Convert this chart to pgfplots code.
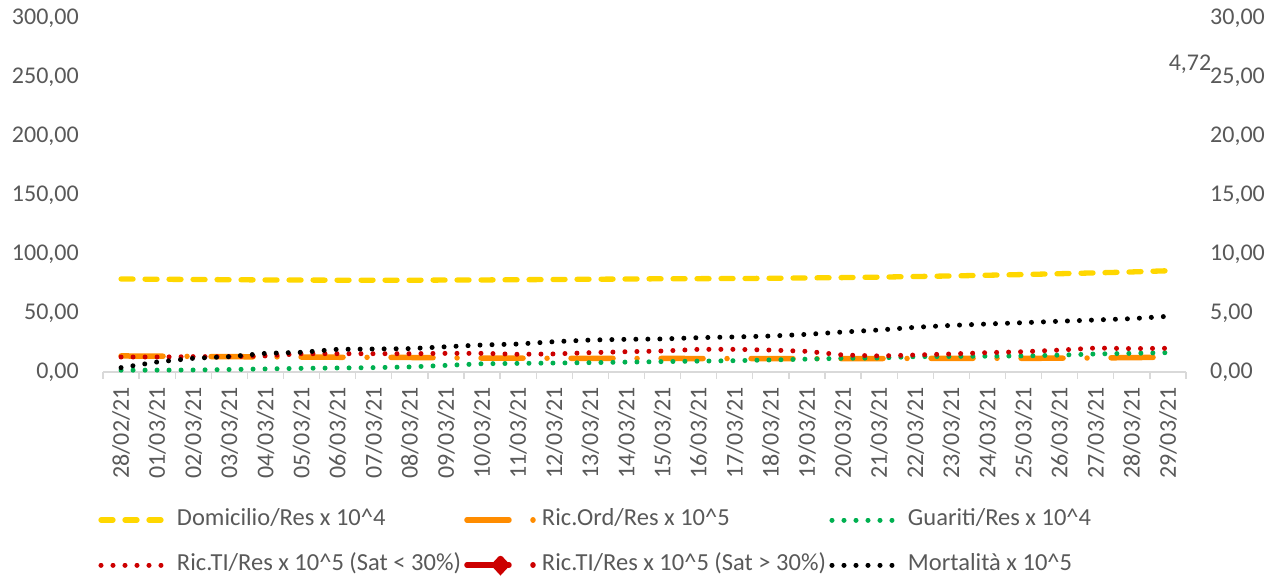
\documentclass[border=0pt]{standalone}
\usepackage{fontspec}
\setmainfont{Carlito}
\usepackage{pgfplots}
\pgfplotsset{compat=1.18}
\definecolor{tgrey}{HTML}{595959}
\definecolor{agrey}{HTML}{D9D9D9}
\definecolor{cyel}{RGB}{255,215,0}
\definecolor{cora}{RGB}{255,140,0}
\definecolor{cgreen}{HTML}{00B050}
\definecolor{cred}{RGB}{204,0,0}
\newcommand\chartfont{\fontsize{24bp}{28bp}\selectfont}
\newcommand\legfont{\fontsize{24.5bp}{28bp}\selectfont}
\newcommand\lt[1]{\makebox[287bp][l]{#1}}
\tikzset{
  dotsty/.style={line width=5bp, line cap=round, dash pattern=on 0.01bp off 11.99bp},
  dashsty/.style={line width=5.3bp, line cap=round, dash pattern=on 12bp off 12bp},
  ldsty/.style={line width=5.5bp, line cap=round, dash pattern=on 42bp off 24bp on 0.01bp off 23.99bp},
}
\pgfplotsset{
  stdlegend/.style={legend image code/.code={\path[draw=none,fill=none] (-3bp,-10bp) rectangle (76bp,10bp); \draw[##1] (0bp,0bp) -- (60bp,0bp);}},
  ldlegend/.style={legend image code/.code={\path[draw=none,fill=none] (-3bp,-10bp) rectangle (75bp,10bp); \draw[##1] (0bp,0bp) -- (67bp,0bp);}},
  dialegend/.style={legend image code/.code={\path[draw=none,fill=none] (-3bp,-10bp) rectangle (75bp,10bp); \draw[##1] (0bp,0bp) -- (67bp,0bp); \fill[cred] (33.5bp,6.5bp) -- (39.5bp,0bp) -- (33.5bp,-6.5bp) -- (27.5bp,0bp) -- cycle;}},
}
\begin{document}
\begin{tikzpicture}
\path (0,0) rectangle (1269bp,575bp);
\begin{axis}[
  at={(103bp,203bp)}, anchor=south west,
  scale only axis, width=1083bp, height=354bp,
  xmin=-0.5, xmax=29.5, ymin=0, ymax=300,
  clip=false,
  axis x line*=bottom, axis y line*=left,
  y axis line style={draw=none},
  x axis line style={draw=agrey, line width=1.3bp},
  xtick={0,...,29},
  xticklabels={28/02/21,01/03/21,02/03/21,03/03/21,04/03/21,05/03/21,06/03/21,07/03/21,08/03/21,09/03/21,10/03/21,11/03/21,12/03/21,13/03/21,14/03/21,15/03/21,16/03/21,17/03/21,18/03/21,19/03/21,20/03/21,21/03/21,22/03/21,23/03/21,24/03/21,25/03/21,26/03/21,27/03/21,28/03/21,29/03/21},
  major tick length=0pt,
  major x tick style={draw=none},
  major y tick style={draw=none},
  minor xtick={-0.5,0.5,...,29.6},
  minor x tick style={draw=agrey, line width=1.3bp},
  minor tick length=7bp, tick align=outside,
  xticklabel style={rotate=90, anchor=east, inner sep=0pt, font=\chartfont, text=tgrey},
  xticklabel shift=15bp,
  ytick={0,50,...,300},
  scaled y ticks=false,
  yticklabel style={/pgf/number format/fixed, /pgf/number format/fixed zerofill, /pgf/number format/precision=2, /pgf/number format/use comma, /pgf/number format/1000 sep={}, /pgf/number format/assume math mode=true, font=\chartfont, text=tgrey, inner sep=0pt, anchor=east, xshift=-24bp},
  legend columns=3,
  legend cell align=left,
  legend style={at={(axis description cs:-0.00462,-0.3856)}, anchor=north west, draw=none, fill=none, inner sep=0pt, outer sep=0pt, column sep=0pt, row sep=22bp, font=\legfont, text=tgrey,
    nodes={inner sep=0pt, text height=17bp, text depth=6bp, anchor=west}},
  stdlegend,
]
\addplot[cyel, dashsty] coordinates {
(0,78.8) (1,78.6) (2,78.4) (3,78.2) (4,78.0) (5,77.9) (6,77.8) (7,77.8) (8,77.8) (9,77.9)
(10,78.0) (11,78.2) (12,78.4) (13,78.6) (14,78.8) (15,79.0) (16,79.1) (17,79.2) (18,79.4) (19,79.7)
(20,80.0) (21,80.4) (22,80.9) (23,81.4) (24,82.0) (25,82.6) (26,83.3) (27,84.0) (28,84.8) (29,85.8)};
\addlegendentry{\lt{Domicilio/Res x 10\textasciicircum 4}}
\addplot[cora, ldsty, ldlegend] coordinates {
(0,13.6) (1,13.4) (2,13.2) (3,13.0) (4,12.8) (5,12.7) (6,12.5) (7,12.4) (8,12.3) (9,12.0)
(10,11.8) (11,11.7) (12,11.6) (13,11.6) (14,11.5) (15,11.5) (16,11.4) (17,11.4) (18,11.3) (19,11.3)
(20,11.3) (21,11.4) (22,11.5) (23,11.6) (24,11.6) (25,11.6) (26,11.7) (27,11.9) (28,12.2) (29,12.5)};
\addlegendentry{\lt{Ric.Ord/Res x 10\textasciicircum 5}}
\addplot[cgreen, dotsty] coordinates {
(0,1.5) (1,1.6) (2,1.7) (3,2.1) (4,2.6) (5,3.1) (6,3.4) (7,3.7) (8,4.3) (9,5.6)
(10,7.0) (11,7.3) (12,7.6) (13,7.9) (14,8.4) (15,8.8) (16,9.2) (17,9.6) (18,10.2) (19,10.9)
(20,11.6) (21,11.9) (22,13.0) (23,13.2) (24,13.4) (25,13.6) (26,14.3) (27,15.3) (28,15.8) (29,16.4)};
\addlegendentry{\lt{Guariti/Res x 10\textasciicircum 4}}
\addplot[cred, dotsty] coordinates {
(0,12.7) (1,12.7) (2,13.0) (3,13.0) (4,13.6) (5,15.5) (6,15.5) (7,15.5) (8,15.5) (9,15.8)
(10,15.8) (11,15.0) (12,15.3) (13,16.4) (14,17.2) (15,17.8) (16,19.2) (17,19.2) (18,18.6) (19,17.5)
(20,14.4) (21,13.6) (22,14.4) (23,15.3) (24,16.4) (25,17.2) (26,18.6) (27,20.3) (28,19.8) (29,20.1)};
\addlegendentry{\lt{Ric.TI/Res x 10\textasciicircum 5 (Sat < 30\%)}}
\addlegendimage{cred, ldsty, dialegend}
\addlegendentry{\lt{Ric.TI/Res x 10\textasciicircum 5 (Sat > 30\%)}}
\addlegendimage{black, dotsty}
\addlegendentry{\lt{Mortalità x 10\textasciicircum 5}}
\end{axis}
\begin{axis}[
  at={(103bp,203bp)}, anchor=south west,
  scale only axis, width=1083bp, height=354bp,
  xmin=-0.5, xmax=29.5, ymin=0, ymax=30,
  clip=false,
  hide x axis,
  axis y line*=right,
  y axis line style={draw=none},
  major tick length=0pt,
  major y tick style={draw=none},
  ytick={0,5,...,30},
  yticklabel style={/pgf/number format/fixed, /pgf/number format/fixed zerofill, /pgf/number format/precision=2, /pgf/number format/use comma, /pgf/number format/assume math mode=true, font=\chartfont, text=tgrey, inner sep=0pt, anchor=west, xshift=24bp},
]
\addplot[black, dotsty] coordinates {
(0,0.37) (1,0.85) (2,1.16) (3,1.30) (4,1.58) (5,1.67) (6,1.92) (7,1.95) (8,1.98) (9,2.14)
(10,2.29) (11,2.37) (12,2.57) (13,2.71) (14,2.77) (15,2.80) (16,2.91) (17,2.97) (18,3.05) (19,3.19)
(20,3.39) (21,3.56) (22,3.79) (23,3.95) (24,4.07) (25,4.18) (26,4.30) (27,4.41) (28,4.52) (29,4.72)};
\node[font=\chartfont, text=tgrey, inner sep=0pt, xshift=4bp] at (axis cs:29.5,26.1) {4,72};
\end{axis}
\end{tikzpicture}
\end{document}
